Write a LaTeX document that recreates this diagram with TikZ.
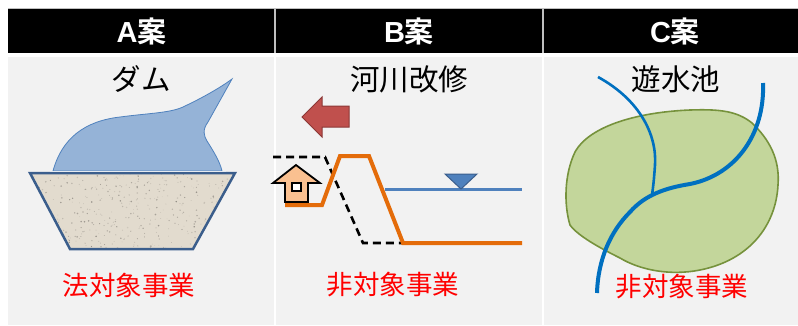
\documentclass[tikz,border=0pt]{standalone}
\usepackage{fontspec}
\setmainfont{Noto Sans CJK JP}[BoldFont={Noto Sans CJK JP Bold}]
\newfontfamily\latinhead{Liberation Sans}
\definecolor{panel}{HTML}{F2F2F2}
\definecolor{waterfill}{HTML}{95B3D7}
\definecolor{waterline}{HTML}{4F81BD}
\definecolor{sand}{HTML}{E2DBCE}
\definecolor{damline}{HTML}{3B5E8C}
\definecolor{arrowred}{HTML}{C0504D}
\definecolor{arrowdark}{HTML}{8C3836}
\definecolor{leveeorange}{HTML}{E46C0A}
\definecolor{housefill}{HTML}{FAC090}
\definecolor{pondfill}{HTML}{C3D69B}
\definecolor{pondline}{HTML}{76923C}
\definecolor{river}{HTML}{0070C0}
\definecolor{divider}{HTML}{BFBFBF}
\tikzset{
  hdr/.style={text=white, font=\bfseries\fontsize{29}{32}\selectfont, inner sep=0pt},
  ttl/.style={text=black, font=\fontsize{29.5}{33}\selectfont, inner sep=0pt},
  note/.style={text=red, font=\fontsize{26.5}{30}\selectfont, inner sep=0pt},
  leveeline/.style={draw=leveeorange, line width=4pt, line join=miter},
  oldbank/.style={draw=black, line width=2.6pt, dash pattern=on 8pt off 5pt},
  riverline/.style={draw=river, line cap=butt},
}
\begin{document}
\begin{tikzpicture}[x=1pt, y=-1pt]
\useasboundingbox (0,0) rectangle (798,325);
\fill[white] (0,0) rectangle (798,325);

% header bar and body panels
\fill[black] (8,8) rectangle (798,53);
\draw[divider, line width=1pt] (8,8.5) -- (798,8.5);
\foreach \xd in {275,543} \draw[divider, line width=1.5pt] (\xd,8) -- (\xd,53);
\fill[panel] (8,57) rectangle (798,325);
\foreach \xd in {275,543} \draw[white, line width=2pt] (\xd,57) -- (\xd,325);

\node[hdr] (hA) at (141.5,31) {{\latinhead A}案};
\node[hdr] (hB) at (409,31) {{\latinhead B}案};
\node[hdr] (hC) at (675,31) {{\latinhead C}案};

\node[ttl] (tA) at (141,79) {ダム};
\node[ttl] (tB) at (409,79) {河川改修};
\node[ttl] (tC) at (676,79) {遊水池};

% ---- A: dam ----
\draw[waterline, fill=waterfill, line width=0.8pt]
  (53,171) .. controls (62,138) and (85,121) .. (120,117)
  .. controls (150,113) and (172,113) .. (185,106)
  .. controls (200,99) and (220,88) .. (232,79)
  -- (208,122)
  .. controls (202,130) and (204,136) .. (207,141)
  .. controls (214,152) and (220,162) .. (222,171) -- cycle;
\draw[white, line width=1pt] (50,171) -- (226,171);
\begin{scope}
  \clip (30,173) -- (235,173) -- (193,249) -- (70,249) -- cycle;
  \fill[sand] (30,173) rectangle (235,249);
  \pgfmathsetseed{7}
  \foreach \i in {1,...,420} {
    \pgfmathsetmacro{\px}{30+205*rnd}
    \pgfmathsetmacro{\py}{173+76*rnd}
    \pgfmathsetmacro{\pr}{0.3+0.6*rnd}
    \pgfmathsetmacro{\po}{0.15+0.45*rnd}
    \fill[black!55!sand, opacity=\po] (\px,\py) circle (\pr);
  }
\end{scope}
\draw[damline, line width=2.5pt, line join=miter]
  (30,173) -- (235,173) -- (193,249) -- (70,249) -- cycle;

\node[note] (nA) at (129,285) {法対象事業};

% ---- B: river improvement ----
\draw[arrowdark, fill=arrowred, line width=1pt, line join=miter]
  (302,117) -- (322,97) -- (322,106) -- (349,106) -- (349,127)
  -- (322,127) -- (322,137) -- cycle;
\draw[oldbank] (273,157) -- (325,157) -- (363,243) -- (402,243);
\draw[leveeline] (285,205) -- (322,205) -- (340,156) -- (369,156)
  -- (403,243) -- (522,243);
\draw[waterline, line width=3pt] (385,189) -- (522,189);
\draw[damline, fill=waterline, line width=1pt, line join=miter]
  (445,174) -- (477,174) -- (461,189) -- cycle;
% house moving out of the widened channel
\draw[black, fill=housefill, line width=1.8pt, line join=miter]
  (296,165) -- (320,183) -- (308,183) -- (308,202) -- (285,202)
  -- (285,183) -- (273,183) -- cycle;
\draw[black, fill=white, line width=1.5pt] (292,183) rectangle (301,191);

\node[note] (nB) at (393,285) {非対象事業};

% ---- C: detention pond ----
\draw[pondline, fill=pondfill, line width=1.6pt]
  (570,225) .. controls (564,205) and (564,175) .. (575,152)
  .. controls (590,125) and (640,112) .. (690,110)
  .. controls (720,109) and (737,111) .. (752,123)
  .. controls (770,140) and (780,160) .. (778,185)
  .. controls (776,225) and (750,260) .. (700,270)
  .. controls (670,276) and (640,270) .. (620,258)
  .. controls (600,248) and (578,236) .. (570,225) -- cycle;
\draw[riverline, line width=2.6pt]
  (598,77) .. controls (640,100) and (657,135) .. (655,165)
  .. controls (654,180) and (653,188) .. (652,195);
\draw[riverline, line width=4pt]
  (763,83) .. controls (765,135) and (735,175) .. (690,184)
  .. controls (665,188) and (645,195) .. (630,212)
  .. controls (610,232) and (598,260) .. (597,293);

\node[note] (nC) at (682,287) {非対象事業};
\end{tikzpicture}
\end{document}
